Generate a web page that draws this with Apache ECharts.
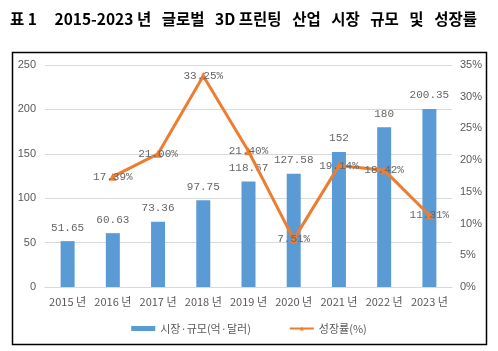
<!DOCTYPE html>
<html>
<head>
<meta charset="utf-8">
<style>
  html, body { margin: 0; padding: 0; background: #fff; }
  #main { width: 498px; height: 351px; }
</style>
<script src="https://cdn.jsdelivr.net/npm/echarts@6/dist/echarts.min.js"></script>
</head>
<body>
<div id="main"></div>
<script>
// 데이터
var years = ['2015 년', '2016 년', '2017 년', '2018 년', '2019 년', '2020 년', '2021 년', '2022 년', '2023 년'];
var marketSize = [51.65, 60.63, 73.36, 97.75, 118.67, 127.58, 152, 180, 200.35];
var growthRate = [null, 17.39, 21.00, 33.25, 21.40, 7.51, 19.14, 18.42, 11.31];

var myChart = echarts.init(document.getElementById('main'));
var labelFont = 'Liberation Mono, DejaVu Sans Mono, monospace';

myChart.setOption({
    animation: false,
    title: {
        text: '표 1     2015-2023 년   글로벌   3D 프린팅   산업   시장   규모   및   성장률',
        left: 5, top: 6,
        textStyle: { fontFamily: 'Noto Sans CJK KR', fontSize: 15.5, fontWeight: 'bold', color: '#000' }
    },
    graphic: [{
        type: 'rect',
        shape: { x: 12.5, y: 52.5, width: 474, height: 292 },
        style: { fill: 'none', stroke: '#000', lineWidth: 1.5 }
    }],
    legend: {
        bottom: 12,
        itemGap: 38,
        itemWidth: 24, itemHeight: 5,
        textStyle: { fontFamily: 'Noto Sans CJK KR', fontSize: 11, color: '#595959' },
        data: [
            { name: '시장·규모(억·달러)', icon: 'rect' },
            { name: '성장률(%)' }
        ]
    },
    grid: { left: 45, right: 46, top: 65, bottom: 64 },
    xAxis: {
        type: 'category',
        data: years,
        axisLine: { lineStyle: { color: '#d9d9d9' } },
        axisTick: { show: false },
        axisLabel: { interval: 0, color: '#595959', fontSize: 11, fontFamily: 'Noto Sans CJK KR', margin: 9 }
    },
    yAxis: [{
        type: 'value', min: 0, max: 250, interval: 50,
        axisLabel: { color: '#595959', fontSize: 11, margin: 9 },
        splitLine: { lineStyle: { color: '#d9d9d9' } },
        axisLine: { show: false }, axisTick: { show: false }
    }, {
        type: 'value', min: 0, max: 35, interval: 5,
        axisLabel: { color: '#595959', fontSize: 11, formatter: '{value}%', margin: 8 },
        splitLine: { show: false },
        axisLine: { show: false }, axisTick: { show: false }
    }],
    series: [{
        name: '시장·규모(억·달러)',
        type: 'bar',
        data: marketSize,
        barWidth: 14,
        itemStyle: { color: '#5b9bd5' },
        label: {
            show: true, position: 'top', distance: 8,
            color: '#666', fontSize: 11, fontFamily: labelFont
        }
    }, {
        name: '성장률(%)',
        type: 'line',
        yAxisIndex: 1,
        data: growthRate,
        symbol: 'triangle',
        symbolSize: 8,
        lineStyle: { color: '#ed7d31', width: 3 },
        itemStyle: { color: '#ed7d31' },
        label: {
            show: true, position: 'inside',
            color: '#666', fontSize: 11, fontFamily: labelFont,
            formatter: function (p) { return p.value.toFixed(2) + '%'; }
        }
    }]
});
</script>
</body>
</html>
